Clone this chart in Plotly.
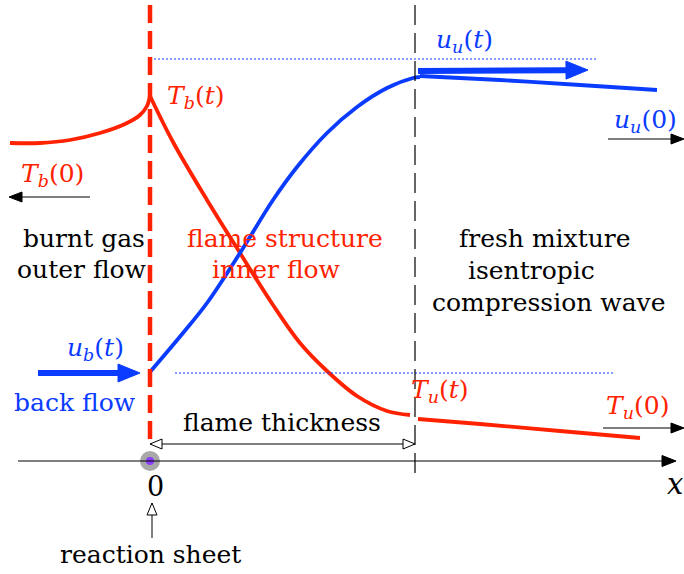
import math
import plotly.graph_objects as go

W, H = 684, 574
RED = "#ff2200"
BLUE = "#0a3cff"
FONT = "DejaVu Serif"

# ---- data (schematic coordinates, pixel-like units, y downward) ----
red_left_x = [10, 40, 70, 100, 125, 140, 147, 150]
red_left_y = [143, 143, 140, 133, 124, 115, 106, 96]
red_mid_x = [150, 173, 207, 240, 273, 300, 327, 357, 387, 410]
red_mid_y = [96, 142, 200, 253, 305, 343, 371, 396, 411, 415]
red_right_x = [418, 480, 560, 640]
red_right_y = [419, 424, 431, 438]

blue_mid_x = [150, 183, 207, 240, 273, 297, 327, 357, 387, 413, 420]
blue_mid_y = [372, 333, 303, 253, 200, 167, 133, 107, 88, 78, 77]
blue_right_x = [420, 500, 580, 657]
blue_right_y = [76, 80, 85, 90]

sheet_x = 150
thick_x = 415
axis_y = 461

# arrows: (x_tail, y_tail, x_head, y_head, color, width, head_len, head_half)
filled_arrows = [
    (18, axis_y, 676, axis_y, "black", 1.2, 14, 5.5),
    (90, 197, 9, 197, "black", 1.2, 13, 5),
    (608, 139, 684, 139, "black", 1.2, 13, 5),
    (603, 428, 684, 428, "black", 1.2, 13, 5),
    (38, 373, 140, 373, BLUE, 6, 22, 9),
    (418, 71, 588, 70, BLUE, 6, 22, 9),
]
open_heads = [
    (sheet_x, 444, thick_x, 444),
    (thick_x, 444, sheet_x, 444),
    (152, 538, 152, 503),
]

labels = [
    ("burnt gas", 84, 238, "black", 25),
    ("outer flow", 82, 269, "black", 25),
    ("flame structure", 285, 238, RED, 25),
    ("inner flow", 276, 269, RED, 25),
    ("fresh mixture", 545, 238, "black", 25),
    ("isentropic", 531, 270, "black", 25),
    ("compression wave", 548, 302, "black", 25),
    ("flame thickness", 282, 422, "black", 25),
    ("reaction sheet", 150, 554, "black", 25),
    ("0", 155, 486, "black", 27),
    ("<i>x</i>", 675, 484, "black", 29),
    ("<i>T</i><sub><i>b</i></sub>(<i>t</i>)", 195, 97, RED, 25),
    ("<i>T</i><sub><i>b</i></sub>(0)", 52, 175, RED, 25),
    ("<i>u</i><sub><i>b</i></sub>(<i>t</i>)", 95, 349, BLUE, 25),
    ("back flow", 75, 402, BLUE, 25),
    ("<i>T</i><sub><i>u</i></sub>(<i>t</i>)", 440, 391, RED, 25),
    ("<i>T</i><sub><i>u</i></sub>(0)", 637, 407, RED, 25),
    ("<i>u</i><sub><i>u</i></sub>(<i>t</i>)", 464, 41, BLUE, 25),
    ("<i>u</i><sub><i>u</i></sub>(0)", 645, 121, BLUE, 25),
]

fig = go.Figure()

shapes = []
shapes.append(dict(type="line", x0=150, x1=598, y0=59, y1=59,
                   line=dict(color=BLUE, width=1, dash="2px,2px")))
shapes.append(dict(type="line", x0=175, x1=615, y0=373, y1=373,
                   line=dict(color=BLUE, width=1, dash="2px,2px")))
shapes.append(dict(type="line", x0=thick_x, x1=thick_x, y0=5, y1=475,
                   line=dict(color="black", width=1.2, dash="20px,8px")))

for (xs, ys) in [(red_left_x, red_left_y), (red_mid_x, red_mid_y), (red_right_x, red_right_y)]:
    fig.add_trace(go.Scatter(x=xs, y=ys, mode="lines", line=dict(color=RED, width=3.8, shape="spline"),
                             hoverinfo="skip"))
for (xs, ys) in [(blue_mid_x, blue_mid_y), (blue_right_x, blue_right_y)]:
    fig.add_trace(go.Scatter(x=xs, y=ys, mode="lines", line=dict(color=BLUE, width=3.8, shape="spline"),
                             hoverinfo="skip"))


def head_path(xt, yt, xh, yh, L, hw):
    dx, dy = xh - xt, yh - yt
    n = math.hypot(dx, dy)
    ux, uy = dx / n, dy / n
    px, py = -uy, ux
    bx, by = xh - ux * L, yh - uy * L
    return (f"M{xh},{yh} L{bx + px * hw},{by + py * hw} "
            f"L{bx - px * hw},{by - py * hw} Z"), (bx, by)


for (xt, yt, xh, yh, col, lw, L, hw) in filled_arrows:
    p, (bx, by) = head_path(xt, yt, xh, yh, L, hw)
    shapes.append(dict(type="line", x0=xt, y0=yt, x1=bx, y1=by,
                       line=dict(color=col, width=lw), layer="above"))
    shapes.append(dict(type="path", path=p, fillcolor=col,
                       line=dict(color=col, width=1), layer="above"))

shapes.append(dict(type="line", x0=sheet_x, x1=thick_x, y0=444, y1=444,
                   line=dict(color="black", width=1)))
shapes.append(dict(type="line", x0=152, x1=152, y0=538, y1=503,
                   line=dict(color="black", width=1)))
for (xt, yt, xh, yh) in open_heads:
    p, _ = head_path(xt, yt, xh, yh, 12, 5)
    shapes.append(dict(type="path", path=p, fillcolor="white",
                       line=dict(color="black", width=1), layer="above"))

fig.add_trace(go.Scatter(x=[sheet_x], y=[axis_y], mode="markers",
                         marker=dict(size=20, color="#a8a8a8"), hoverinfo="skip"))
fig.add_trace(go.Scatter(x=[sheet_x], y=[axis_y], mode="markers",
                         marker=dict(size=8, color="#8a3cff"), hoverinfo="skip"))

shapes.append(dict(type="line", x0=sheet_x, x1=sheet_x, y0=5, y1=445,
                   line=dict(color=RED, width=4.5, dash="18px,8px"), layer="above"))

annotations = []
for (t, x, y, c, s) in labels:
    annotations.append(dict(text=t, x=x, y=y, xref="x", yref="y", showarrow=False,
                            font=dict(family=FONT, size=s, color=c),
                            xanchor="center", yanchor="middle"))

fig.update_layout(
    width=W, height=H, margin=dict(l=0, r=0, t=0, b=0),
    paper_bgcolor="white", plot_bgcolor="white", showlegend=False,
    xaxis=dict(range=[0, W], visible=False, fixedrange=True),
    yaxis=dict(range=[H, 0], visible=False, fixedrange=True),
    shapes=shapes, annotations=annotations,
)
fig.write_html("out.html", config={"displayModeBar": False},
               post_script="document.body.style.margin='0px';document.body.style.overflow='hidden';")
